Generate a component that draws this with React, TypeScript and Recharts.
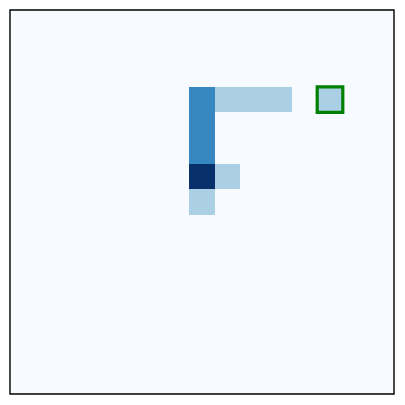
import React from "react";
import { ScatterChart, XAxis, YAxis, ReferenceArea, Scatter } from "recharts";

const gridSize = 15;
const cellRows = [3, 3, 3, 3, 4, 5, 6, 6, 7, 3];
const cellCols = [7, 8, 9, 10, 7, 7, 7, 8, 7, 12];
const cellValues = [2, 1, 1, 1, 2, 2, 3, 1, 1, 1];
const highlightRow = 3;
const highlightCol = 12;

const blues = ["#f7fbff", "#abd0e6", "#3787c0", "#08306b"];

const cells = cellRows.map((r, i) => ({ row: r, col: cellCols[i], value: cellValues[i] }));

export default function App() {
  return (
    <ScatterChart width={388} height={388} margin={{ top: 2, right: 2, bottom: 2, left: 2 }}>
      <XAxis type="number" dataKey="col" domain={[0, gridSize]} hide allowDataOverflow />
      <YAxis type="number" dataKey="row" domain={[0, gridSize]} reversed hide allowDataOverflow />
      <ReferenceArea x1={0} x2={gridSize} y1={0} y2={gridSize} fill={blues[0]} fillOpacity={1} stroke="none" ifOverflow="visible" />
      {cells.map((c, i) => (
        <ReferenceArea
          key={i}
          x1={c.col}
          x2={c.col + 1}
          y1={c.row}
          y2={c.row + 1}
          fill={blues[c.value]}
          fillOpacity={1}
          stroke="none"
          shapeRendering="crispEdges"
          ifOverflow="visible"
        />
      ))}
      <ReferenceArea
        x1={highlightCol}
        x2={highlightCol + 1}
        y1={highlightRow}
        y2={highlightRow + 1}
        fill="none"
        stroke="#008000"
        strokeWidth={3.2}
        strokeOpacity={1}
        ifOverflow="visible"
      />
      <ReferenceArea
        x1={0}
        x2={gridSize}
        y1={0}
        y2={gridSize}
        fill="none"
        stroke="#000000"
        strokeWidth={1.4}
        strokeOpacity={1}
        ifOverflow="visible"
      />
      <Scatter data={cells} fill="none" shape={() => <g />} isAnimationActive={false} />
    </ScatterChart>
  );
}
